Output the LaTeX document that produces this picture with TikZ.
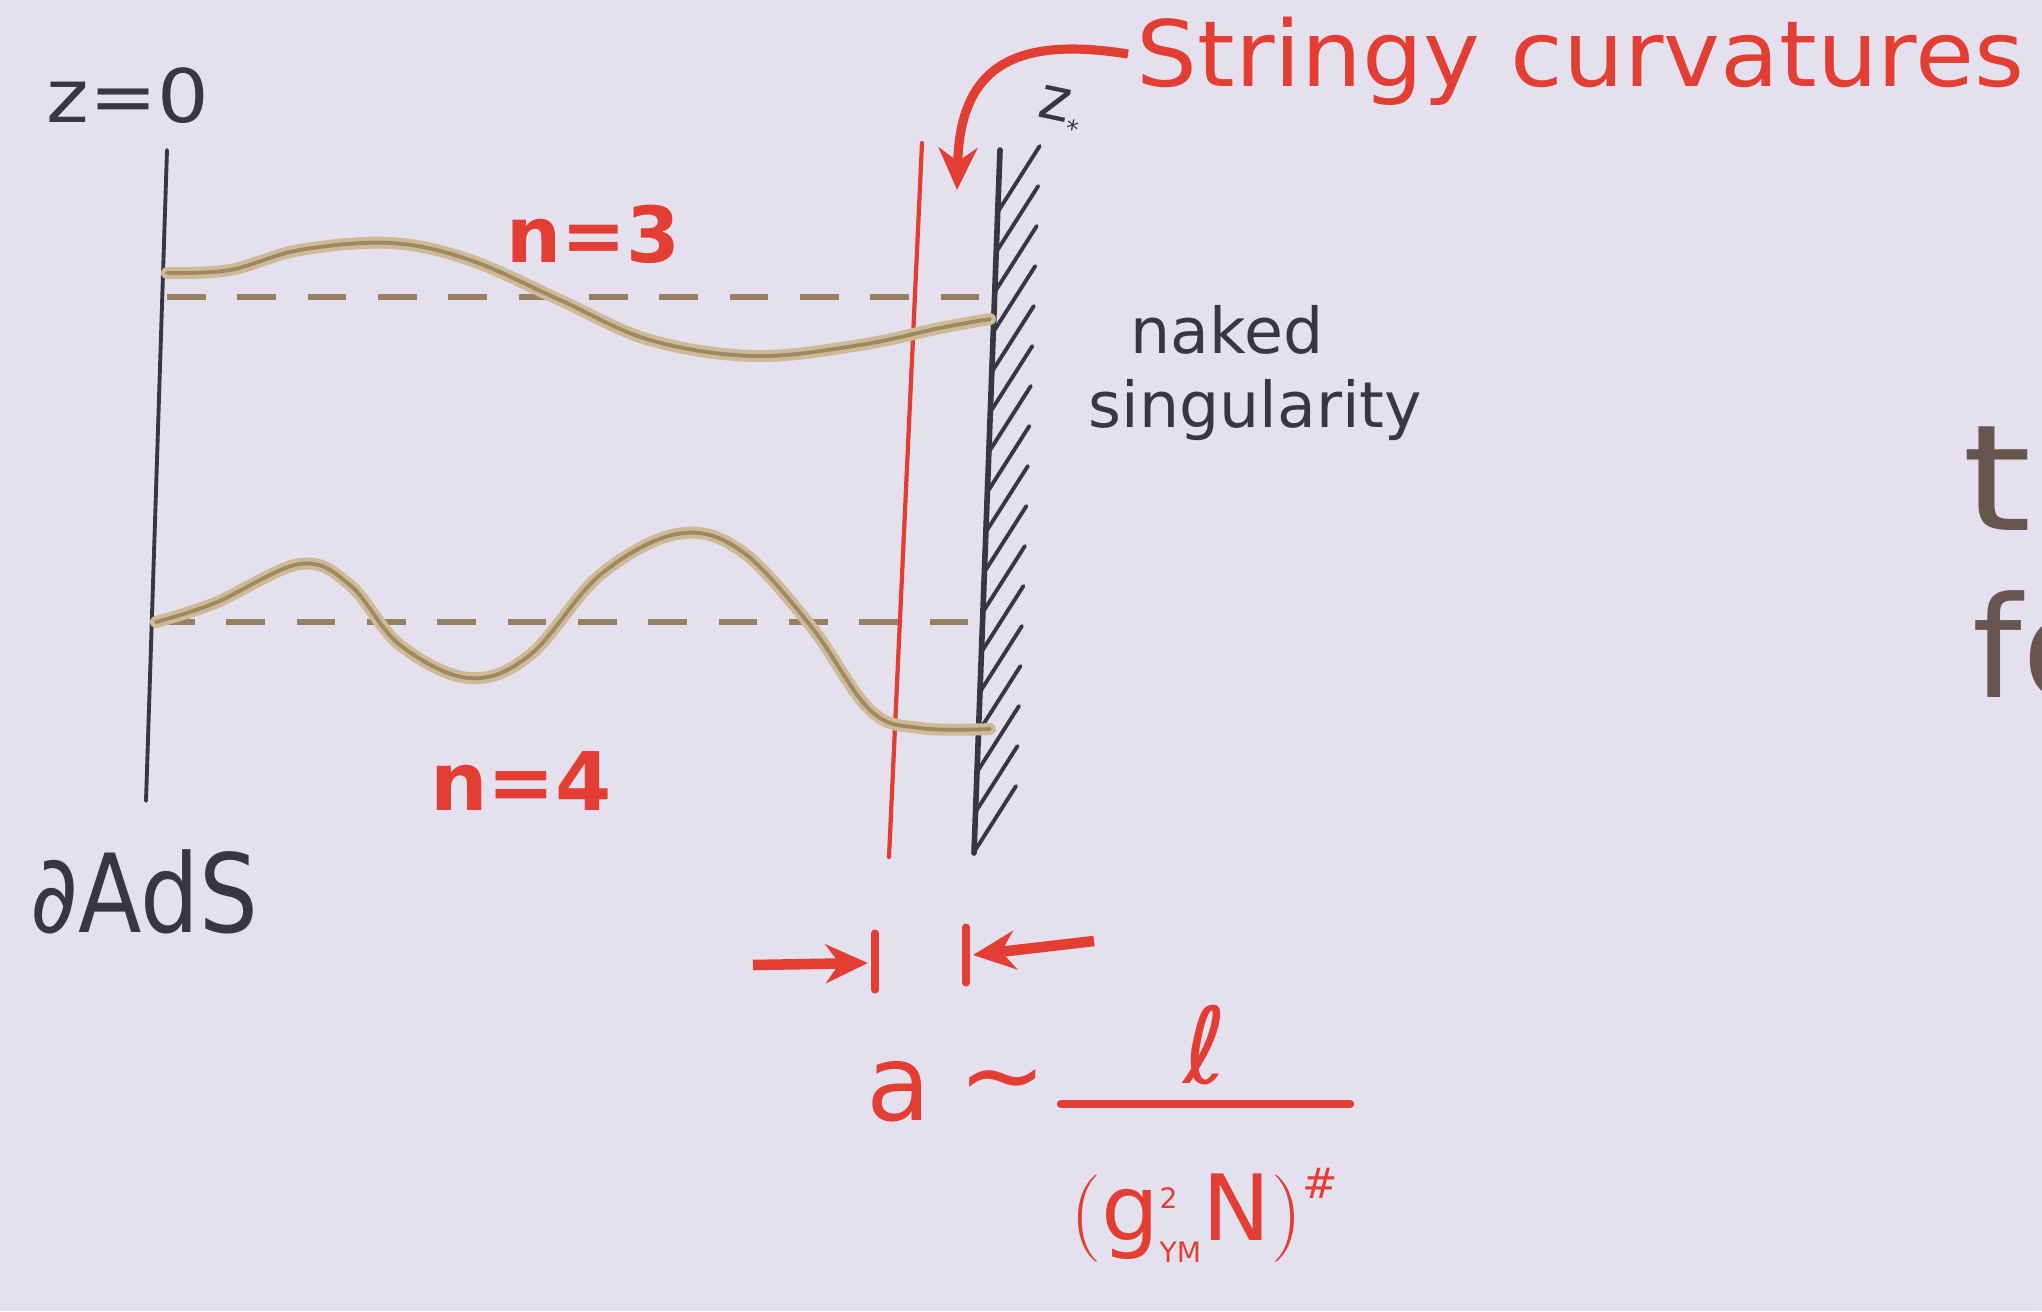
\documentclass[tikz,border=0pt]{standalone}
\usepackage{fontspec}
\setmainfont{DejaVu Sans}
\usetikzlibrary{arrows.meta}
\definecolor{paper}{RGB}{228,224,238}
\definecolor{ink}{RGB}{55,55,68}
\definecolor{brownink}{RGB}{105,85,80}
\definecolor{redink}{RGB}{226,62,52}
\definecolor{strA}{RGB}{205,186,150}
\definecolor{strB}{RGB}{160,136,98}
\definecolor{dashcol}{RGB}{150,128,100}
\tikzset{
  inkline/.style={ink, line width=1.1pt, line cap=round},
  redline/.style={redink, line width=1.2pt, line cap=round},
  wallline/.style={ink, line width=1.6pt, line cap=round},
  hatchline/.style={ink, line width=1.1pt, line cap=round},
  stringA/.style={strA, line width=3.4pt, line cap=round},
  stringB/.style={strB, line width=1.1pt, line cap=round},
  dashline/.style={dashcol, line width=1.6pt, dash pattern=on 11pt off 9pt},
  redarrow/.style={redink, line width=2.6pt, -{Stealth[length=12pt,width=11pt]}},
  blacklabel/.style={text=ink, inner sep=0pt},
  redlabel/.style={text=redink, inner sep=0pt},
}
\begin{document}
\begin{tikzpicture}[x=0.01cm,y=-0.01cm]
\fill[paper] (0,0) rectangle (2042,1311);
\clip (0,0) rectangle (2042,1311);

% boundary line
\coordinate (bT) at (167,150);
\coordinate (bB) at (146,801);
\draw[inkline] (bT) -- (bB);
\node[blacklabel, font=\fontsize{21}{24}\selectfont, anchor=base west, xscale=1.1] (z0) at (46,122) {z=0};
\node[blacklabel, font=\fontsize{31}{36}\selectfont, anchor=base west, xscale=0.85] (ads) at (30,932) {∂AdS};

% red line
\coordinate (rT) at (922,143);
\coordinate (rB) at (889,857);
\draw[redline] (rT) -- (rB);

% wall
\coordinate (wT) at (1000,150);
\coordinate (wB) at (974,853);
\draw[wallline] (wT) -- (wB);
\foreach \i in {0,...,16}{
  \pgfmathsetmacro{\yy}{212+\i*40}
  \pgfmathsetmacro{\xx}{1000-(\yy-150)*0.037}
  \draw[hatchline] (\xx,\yy) -- ++(42,-66);
}
\node[blacklabel, font=\fontsize{17}{20}\selectfont, rotate=-12] (zstar) at (1060,112) {z\raisebox{-4pt}{\scriptsize *}};

% n=3
\coordinate (d3L) at (167,297);
\coordinate (d3R) at (990,297);
\draw[dashline] (d3L) -- (d3R);
\draw[stringA] plot[smooth, tension=0.6] coordinates {(167,273) (230,270) (300,250) (391,243) (470,260) (560,300) (650,340) (755,356) (860,345) (940,328) (990,319)};
\draw[stringB] plot[smooth, tension=0.6] coordinates {(167,273) (230,270) (300,250) (391,243) (470,260) (560,300) (650,340) (755,356) (860,345) (940,328) (990,319)};
\node[redlabel, font=\fontsize{22}{26}\selectfont\bfseries] (n3) at (593,234) {n=3};

% n=4
\coordinate (d4L) at (156,622);
\coordinate (d4R) at (990,622);
\draw[dashline] (d4L) -- (d4R);
\draw[stringA] plot[smooth, tension=0.6] coordinates {(156,622) (215,603) (300,564) (350,585) (400,645) (469,678) (530,655) (600,575) (677,534) (740,550) (810,625) (870,710) (920,728) (990,729)};
\draw[stringB] plot[smooth, tension=0.6] coordinates {(156,622) (215,603) (300,564) (350,585) (400,645) (469,678) (530,655) (600,575) (677,534) (740,550) (810,625) (870,710) (920,728) (990,729)};
\node[redlabel, font=\fontsize{23}{26}\selectfont\bfseries] (n4) at (521,781) {n=4};

% labels right of wall
\node[blacklabel, font=\fontsize{18}{21}\selectfont, anchor=west] (naked) at (1130,330) {naked};
\node[blacklabel, font=\fontsize{18}{21}\selectfont, anchor=west] (sing) at (1088,410) {singularity};

% stringy curvatures
\node[redlabel, font=\fontsize{26}{30}\selectfont, anchor=base west, xscale=1.05] (stringy) at (1136,86) {Stringy curvatures};
\coordinate (arrStart) at (1128,54);
\coordinate (arrEnd) at (957,190);
\draw[redarrow] (arrStart) .. controls (1010,35) and (960,70) .. (arrEnd);

% cut-off text at right
\node[text=brownink, inner sep=0pt, font=\fontsize{42}{48}\selectfont, anchor=base west, xscale=1.2] (tt) at (1962,530) {t};
\node[text=brownink, inner sep=0pt, font=\fontsize{40}{46}\selectfont, anchor=base west] (ff) at (1972,697) {fo};

% gap arrows
\coordinate (bar1T) at (875,933);
\coordinate (bar1B) at (875,990);
\coordinate (bar2T) at (966,927);
\coordinate (bar2B) at (966,983);
\draw[redline, line width=2pt] (bar1T) -- (bar1B);
\draw[redline, line width=2pt] (bar2T) -- (bar2B);
\coordinate (a1s) at (753,965);
\coordinate (a1e) at (868,963);
\coordinate (a2s) at (1094,941);
\coordinate (a2e) at (973,955);
\draw[redarrow, line width=3pt] (a1s) -- (a1e);
\draw[redarrow, line width=3pt] (a2s) -- (a2e);

% formula
\node[redlabel, font=\fontsize{30}{36}\selectfont] (aa) at (899,1092) {a};
\node[redlabel, font=\fontsize{30}{36}\selectfont] (sim) at (1003,1090) {∼};
\coordinate (fracL) at (1061,1104);
\coordinate (fracR) at (1350,1104);
\draw[redline, line width=2.4pt] (fracL) -- (fracR);
\node[redlabel, font=\fontsize{30}{36}\selectfont] (ell) at (1205,1045) {ℓ};
\node[redlabel, font=\fontsize{26}{30}\selectfont] (den) at (1205,1215) {$\Bigl(\mbox{g}^{\mbox{\footnotesize 2}}_{\mbox{\footnotesize YM}}\mbox{N}\Bigr)^{\mbox{\large\#}}$};
\end{tikzpicture}
\end{document}
